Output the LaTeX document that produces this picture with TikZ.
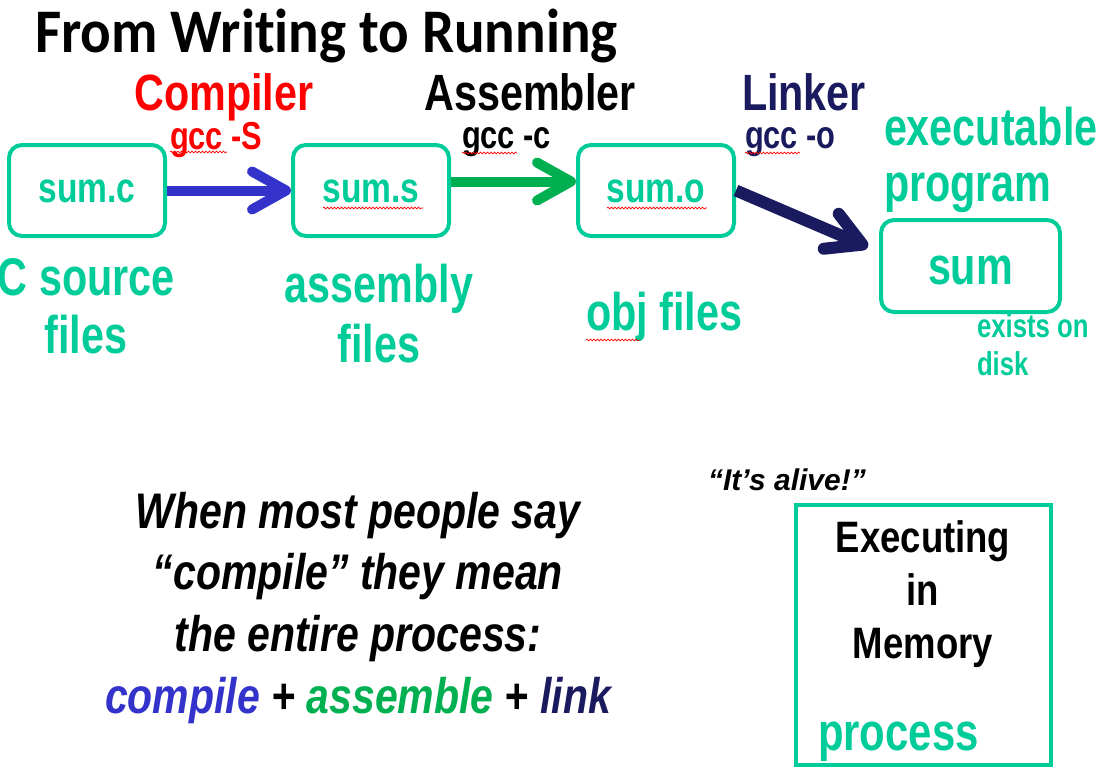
\documentclass[tikz,border=0pt]{standalone}
\usepackage{fontspec}
\usepackage{graphicx}
\setmainfont{Liberation Sans}
\newfontfamily\headfont[Ligatures=NoCommon]{Carlito}
\usetikzlibrary{arrows.meta,decorations.pathmorphing}

\definecolor{procteal}{HTML}{00CC99}
\definecolor{stageblue}{HTML}{3333CC}
\definecolor{stagegreen}{HTML}{00B050}
\definecolor{stagenavy}{HTML}{1A1A5E}

% condensed text and bold size helpers
\newcommand\sq[2]{\scalebox{#1}[1]{#2}}
% box label with its baseline a fixed distance below the box centre
\newcommand\boxtext[3]{\raisebox{-#1}[0pt][0pt]{\sq{#2}{#3}}}
\newcommand\fsz[1]{\fontsize{#1}{#1}\selectfont\bfseries}

\tikzset{
  lbl/.style={inner sep=0pt, outer sep=0pt},
  filebox/.style={draw=procteal, line width=4pt, rounded corners=13pt,
    minimum width=156pt, minimum height=91pt, inner sep=0pt,
    text=procteal, font=\fsz{42}},
  flow/.style={line width=10pt, -{Straight Barb[length=34pt,width=38pt,round]}},
  spell/.style={draw=red, line width=0.7pt, decorate,
    decoration={snake, amplitude=0.9pt, segment length=3.5pt}},
}

\begin{document}
\begin{tikzpicture}[x=1pt,y=-1pt]
\useasboundingbox (0,0) rectangle (1106,782);

% title
\node[lbl, anchor=base west, font=\headfont\fsz{62}] (title) at (35,52) {\sq{0.92}{From Writing to Running}};

% file boxes
\node[filebox] (srcc) at (87,190.5) {\boxtext{12pt}{0.8}{sum.c}};
\node[filebox] (asms) at (371,190.5) {\boxtext{12pt}{0.8}{sum.s}};
\node[filebox] (objo) at (656,190.5) {\boxtext{12pt}{0.8}{sum.o}};
\node[filebox, minimum width=179pt, minimum height=92pt, font=\fsz{53}] (exe) at (970.5,266) {\boxtext{18pt}{0.78}{sum}};

% tool arrows
\draw[flow, draw=stageblue] (srcc.east) -- (asms.west);
\draw[flow, draw=stagegreen] ([yshift=9pt]asms.east) -- ([yshift=9pt]objo.west);
\coordinate (lkend) at (868,247);
\draw[flow, draw=stagenavy, line width=12pt] (objo.east) -- (lkend);

% tool names
\node[lbl, anchor=base, text=red, font=\fsz{51}] (cmp) at (224,110) {\sq{0.81}{Compiler}};
\node[lbl, anchor=base, font=\fsz{51}] (asm) at (530,110) {\sq{0.81}{Assembler}};
\node[lbl, anchor=base, text=stagenavy, font=\fsz{51}] (lnk) at (804,110) {\sq{0.81}{Linker}};

% commands
\node[lbl, anchor=base west, text=red, font=\fsz{39}] (gccS) at (170,149) {\sq{0.79}{gcc -S}};
\node[lbl, anchor=base west, font=\fsz{39}] (gccc) at (462,148) {\sq{0.79}{gcc -c}};
\node[lbl, anchor=base west, text=stagenavy, font=\fsz{39}] (gcco) at (745,148) {\sq{0.79}{gcc -o}};

% file kinds
\begin{scope}[every node/.style={lbl, text=procteal, font=\fsz{53}}]
\node[anchor=base west] (src1) at (-2,295) {\sq{0.78}{C source}};
\node[anchor=base] (src2) at (86,353) {\sq{0.78}{files}};
\node[anchor=base] (asm1) at (379,302) {\sq{0.78}{assembly}};
\node[anchor=base] (asm2) at (379,362) {\sq{0.78}{files}};
\node[anchor=base west] (obj1) at (586,330) {\sq{0.78}{obj files}};
\node[anchor=base west] (exe1) at (884,145) {\sq{0.78}{executable}};
\node[anchor=base west] (exe2) at (884,201) {\sq{0.78}{program}};
\node[anchor=base west] (proc) at (818,750) {\sq{0.79}{process}};
\end{scope}
\node[lbl, anchor=base west, text=procteal, font=\fsz{33}] (disk1) at (977,337) {\sq{0.78}{exists on}};
\node[lbl, anchor=base west, text=procteal, font=\fsz{33}] (disk2) at (977,375) {\sq{0.78}{disk}};

% running process
\node[draw=procteal, line width=3.5pt, minimum width=255pt, minimum height=260pt, inner sep=0pt] (mem) at (923.5,635) {};
\node[lbl, anchor=base west, font=\fsz{30}\itshape] (alive) at (708,490) {“It’s alive!”};
\node[lbl, anchor=base, font=\fsz{44}] (mem1) at (923,552) {\sq{0.83}{Executing}};
\node[lbl, anchor=base, font=\fsz{44}] (mem2) at (923,605) {\sq{0.83}{in}};
\node[lbl, anchor=base, font=\fsz{44}] (mem3) at (923,658) {\sq{0.83}{Memory}};

% summary
\begin{scope}[every node/.style={lbl, anchor=base, font=\fsz{50}\itshape}]
\node (sum1) at (358,528) {\sq{0.82}{When most people say}};
\node (sum2) at (358,589) {\sq{0.82}{“compile” they mean}};
\node (sum3) at (358,651) {\sq{0.82}{the entire process:}};
\node (sum4) at (358,713) {\sq{0.82}{\textcolor{stageblue}{compile} + \textcolor{stagegreen}{assemble} + \textcolor{stagenavy}{link}}};
\end{scope}

% spell-check underlines
\draw[spell] (170,152) -- (227,152);
\draw[spell] (462,153) -- (517,153);
\draw[spell] (745,153) -- (800,153);
\draw[spell] (323,208) -- (423,208);
\draw[spell] (607,208) -- (707,208);
\draw[spell] (586,340) -- (640,340);
\end{tikzpicture}
\end{document}
